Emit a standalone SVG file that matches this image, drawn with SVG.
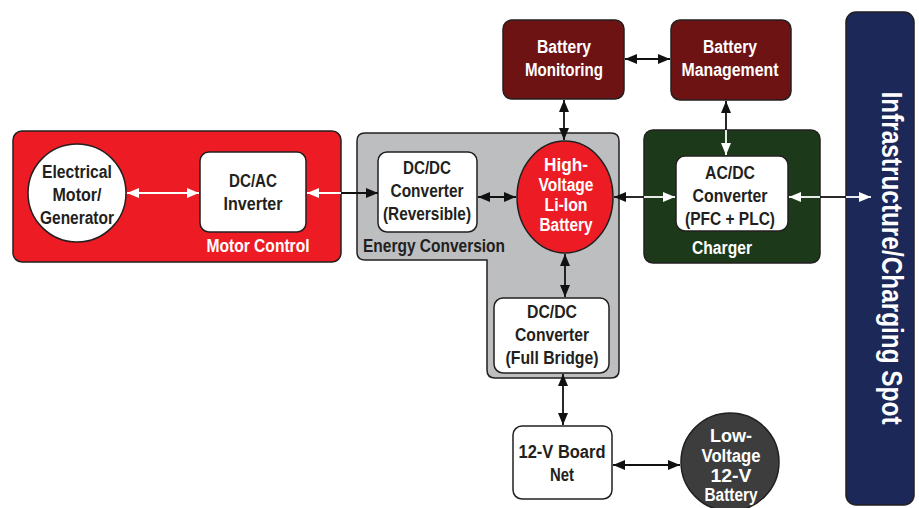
<svg xmlns="http://www.w3.org/2000/svg" width="919" height="508" viewBox="0 0 919 508">
<defs>
<marker id="ab" viewBox="0 0 12 10" refX="12" refY="5" markerWidth="12" markerHeight="10" markerUnits="userSpaceOnUse" orient="auto-start-reverse"><path d="M0,0 L12,5 L0,10 Z" fill="#111"/></marker>
<marker id="aw" viewBox="0 0 12 10" refX="12" refY="5" markerWidth="12" markerHeight="10" markerUnits="userSpaceOnUse" orient="auto-start-reverse"><path d="M0,0 L12,5 L0,10 Z" fill="#fff"/></marker>
<style>
text{font-family:"Liberation Sans",Arial,sans-serif;font-weight:bold;text-anchor:middle}
.t{font-size:18px;fill:#231f20}
.tw{font-size:18px;fill:#fff}
.box{fill:#fff;stroke:#231f20;stroke-width:1.5}
.grp{stroke:#231f20;stroke-width:1.5}
.lb{stroke:#111;stroke-width:1.8;fill:none}
.lw{stroke:#fff;stroke-width:1.8;fill:none}
</style>
</defs>

<g id="motor-control">
<rect x="13" y="131" width="328" height="131" rx="9" fill="#ed1c24" class="grp"/>
<text x="258" y="252" class="tw" textLength="103" lengthAdjust="spacingAndGlyphs">Motor Control</text>
</g>
<g id="electrical-motor">
<circle cx="77" cy="193" r="49" class="box"/>
<text class="t" x="77" y="178" textLength="70" lengthAdjust="spacingAndGlyphs">Electrical</text>
<text class="t" x="77" y="201" textLength="49" lengthAdjust="spacingAndGlyphs">Motor/</text>
<text class="t" x="77" y="224" textLength="74" lengthAdjust="spacingAndGlyphs">Generator</text>
</g>
<g id="dcac-inverter">
<rect x="200" y="152" width="106" height="80" rx="9" class="box"/>
<text class="t" x="253" y="187" textLength="48" lengthAdjust="spacingAndGlyphs">DC/AC</text>
<text class="t" x="253" y="210" textLength="59" lengthAdjust="spacingAndGlyphs">Inverter</text>
</g>

<g id="energy-conversion">
<path d="M365,133 H611 Q619,133 619,141 V370 Q619,378 611,378 H495 Q487,378 487,370 V260 H365 Q357,260 357,252 V141 Q357,133 365,133 Z" fill="#bcbec0" class="grp"/>
<text x="434" y="252" class="t" textLength="142" lengthAdjust="spacingAndGlyphs">Energy Conversion</text>
</g>
<g id="dcdc-reversible">
<rect x="378" y="152" width="99" height="80" rx="9" class="box"/>
<text class="t" x="427" y="174" textLength="48" lengthAdjust="spacingAndGlyphs">DC/DC</text>
<text class="t" x="427" y="197" textLength="73" lengthAdjust="spacingAndGlyphs">Converter</text>
<text class="t" x="427" y="220" textLength="88" lengthAdjust="spacingAndGlyphs">(Reversible)</text>
</g>
<g id="hv-battery">
<ellipse cx="565" cy="197" rx="48" ry="56" fill="#ed1c24" class="grp"/>
<text class="tw" x="566" y="171" textLength="44" lengthAdjust="spacingAndGlyphs">High-</text>
<text class="tw" x="566" y="191" textLength="55" lengthAdjust="spacingAndGlyphs">Voltage</text>
<text class="tw" x="566" y="211" textLength="43" lengthAdjust="spacingAndGlyphs">Li-Ion</text>
<text class="tw" x="566" y="231" textLength="53" lengthAdjust="spacingAndGlyphs">Battery</text>
</g>
<g id="dcdc-fullbridge">
<rect x="494" y="298" width="115" height="75" rx="9" class="box"/>
<text class="t" x="552" y="318" textLength="50" lengthAdjust="spacingAndGlyphs">DC/DC</text>
<text class="t" x="552" y="341" textLength="74" lengthAdjust="spacingAndGlyphs">Converter</text>
<text class="t" x="552" y="364" textLength="93" lengthAdjust="spacingAndGlyphs">(Full Bridge)</text>
</g>

<g id="battery-monitoring">
<rect x="503" y="20" width="121" height="79" rx="9" fill="#6d1313" class="grp"/>
<text class="tw" x="564" y="53" textLength="54" lengthAdjust="spacingAndGlyphs">Battery</text>
<text class="tw" x="564" y="76" textLength="78" lengthAdjust="spacingAndGlyphs">Monitoring</text>
</g>
<g id="battery-management">
<rect x="671" y="20" width="120" height="80" rx="9" fill="#6d1313" class="grp"/>
<text class="tw" x="730" y="53" textLength="54" lengthAdjust="spacingAndGlyphs">Battery</text>
<text class="tw" x="730" y="76" textLength="97" lengthAdjust="spacingAndGlyphs">Management</text>
</g>

<g id="charger">
<rect x="644" y="130" width="176" height="133" rx="9" fill="#1c3a1a" class="grp"/>
<text x="722" y="254" class="tw" textLength="60" lengthAdjust="spacingAndGlyphs">Charger</text>
</g>
<g id="acdc-converter">
<rect x="676" y="156" width="112" height="75" rx="9" class="box"/>
<text class="t" x="730" y="179" textLength="50" lengthAdjust="spacingAndGlyphs">AC/DC</text>
<text class="t" x="730" y="202" textLength="75" lengthAdjust="spacingAndGlyphs">Converter</text>
<text class="t" x="730" y="225" textLength="90" lengthAdjust="spacingAndGlyphs">(PFC + PLC)</text>
</g>

<g id="infrastructure">
<rect x="846" y="12" width="68" height="493" rx="10" fill="#1b2858" class="grp"/>
<text transform="translate(882,258) rotate(90)" x="0" y="0" style="font-size:29px;fill:#fff" textLength="333" lengthAdjust="spacingAndGlyphs">Infrastructure/Charging Spot</text>
</g>

<g id="board-net">
<rect x="513" y="426" width="99" height="73" rx="9" class="box"/>
<text class="t" x="562" y="458" textLength="87" lengthAdjust="spacingAndGlyphs">12-V Board</text>
<text class="t" x="562" y="481" textLength="24" lengthAdjust="spacingAndGlyphs">Net</text>
</g>
<g id="lv-battery">
<circle cx="730" cy="462" r="49" fill="#3d3d3d" class="grp"/>
<text class="tw" x="731" y="442" textLength="42" lengthAdjust="spacingAndGlyphs">Low-</text>
<text class="tw" x="731" y="462" textLength="59" lengthAdjust="spacingAndGlyphs">Voltage</text>
<text class="tw" x="731" y="482" textLength="41" lengthAdjust="spacingAndGlyphs">12-V</text>
<text class="tw" x="731" y="501" textLength="53" lengthAdjust="spacingAndGlyphs">Battery</text>
</g>

<g id="connectors">
<path class="lw" d="M127,193 H199" marker-start="url(#aw)" marker-end="url(#aw)"/>
<path class="lw" d="M307,193 H341" marker-start="url(#aw)"/>
<path class="lb" d="M341,193 H378" marker-end="url(#ab)"/>
<path class="lb" d="M478,197 H516" marker-start="url(#ab)" marker-end="url(#ab)"/>
<path class="lb" d="M565,254 V297" marker-start="url(#ab)" marker-end="url(#ab)"/>
<path class="lb" d="M564,100 V140" marker-start="url(#ab)" marker-end="url(#ab)"/>
<path class="lb" d="M625,59 H670" marker-start="url(#ab)" marker-end="url(#ab)"/>
<path class="lb" d="M726,101 V130" marker-start="url(#ab)"/>
<path class="lw" d="M726,130 V155" marker-end="url(#aw)"/>
<path class="lb" d="M614,197 H644" marker-start="url(#ab)"/>
<path class="lw" d="M644,197 H675" marker-end="url(#aw)"/>
<path class="lw" d="M789,197 H820" marker-start="url(#aw)"/>
<path class="lb" d="M820,197 H846"/>
<path class="lw" d="M846,197 H871" marker-end="url(#aw)"/>
<path class="lb" d="M563,374 V425" marker-start="url(#ab)" marker-end="url(#ab)"/>
<path class="lb" d="M613,465 H680" marker-start="url(#ab)" marker-end="url(#ab)"/>
</g>
</svg>
